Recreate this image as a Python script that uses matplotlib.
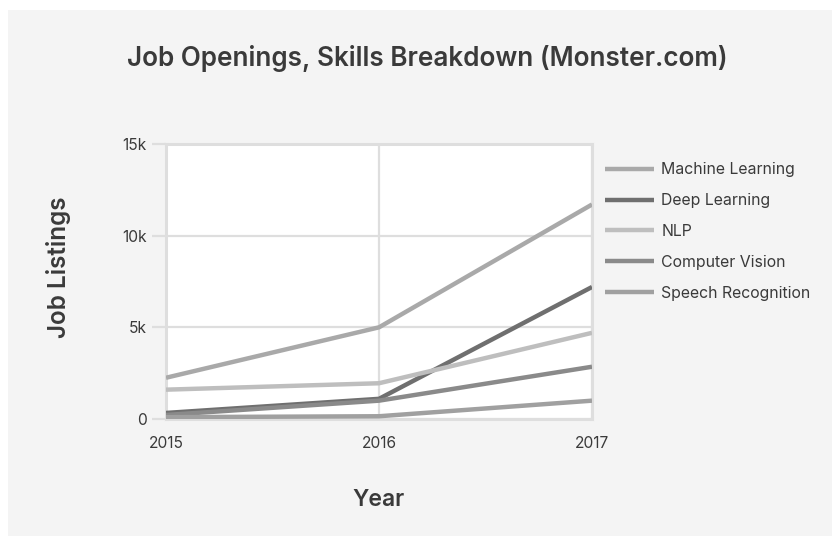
import matplotlib
matplotlib.use("Agg")
import matplotlib.pyplot as plt
from matplotlib.patches import Rectangle
from matplotlib.ticker import FuncFormatter

# Job listings per skill on Monster.com
years = [2015, 2016, 2017]
skills = ["Machine Learning", "Deep Learning", "NLP", "Computer Vision", "Speech Recognition"]
machine_learning = [2250, 5000, 11700]
deep_learning = [330, 1100, 7200]
nlp = [1600, 1950, 4700]
computer_vision = [220, 1000, 2850]
speech_recognition = [100, 150, 1000]
series = [machine_learning, deep_learning, nlp, computer_vision, speech_recognition]
colors = ["#a9a9a9", "#6f6f6f", "#bebebe", "#8a8a8a", "#a0a0a0"]

y_ticks = [0, 5000, 10000, 15000]

plt.rcParams['font.family'] = ['Inter', 'DejaVu Sans']
text_color = "#3a3a3a"
grid_color = "#dedede"
panel_color = "#f4f4f4"

fig = plt.figure(figsize=(8.32, 5.36), dpi=100)
fig.patch.set_facecolor("white")
# grey panel, leaving a thin white strip on the left and top
fig.add_artist(Rectangle((8 / 832, 0), 1, 1 - 10 / 536, transform=fig.transFigure,
                         facecolor=panel_color, edgecolor="none", zorder=-5))

ax = fig.add_axes([166 / 832, 117 / 536, 426 / 832, 275 / 536])
ax.set_facecolor("white")

for values, name, c in zip(series, skills, colors):
    ax.plot(years, values, color=c, linewidth=3.2, label=name, solid_capstyle="butt", zorder=3)

ax.set_xlim(years[0], years[-1])
ax.set_ylim(y_ticks[0], y_ticks[-1])
ax.set_xticks(years)
ax.set_yticks(y_ticks)
ax.yaxis.set_major_formatter(FuncFormatter(lambda v, p: "0" if v == 0 else f"{int(v / 1000)}k"))

ax.grid(True, color=grid_color, linewidth=1.6, zorder=1)
for side in ax.spines.values():
    side.set_color(grid_color)
    side.set_linewidth(2.2)

ax.tick_params(axis="y", length=10, width=1.6, color=grid_color, labelcolor=text_color,
               labelsize=11.2, pad=4)
ax.tick_params(axis="x", length=0, labelcolor=text_color, labelsize=11.2, pad=12)

ax.set_title("Job Openings, Skills Breakdown (Monster.com)", fontsize=18.8, fontweight="semibold",
             color=text_color, x=261 / 426, y=1.0, pad=56)
ax.set_xlabel("Year", fontsize=16.5, fontweight="semibold", color=text_color)
ax.xaxis.set_label_coords(0.5, -0.254)
ax.set_ylabel("Job Listings", fontsize=17.5, fontweight="semibold", color=text_color)
ax.yaxis.set_label_coords(-0.223, 0.55)

ax.legend(loc="upper left", bbox_to_anchor=(591 / 832, 388 / 536), bbox_transform=fig.transFigure,
          frameon=False, fontsize=11.4, handlelength=3.1, handletextpad=0.45, labelspacing=1.0,
          labelcolor=text_color)

fig.savefig("out.png", dpi=100, facecolor=fig.get_facecolor())
